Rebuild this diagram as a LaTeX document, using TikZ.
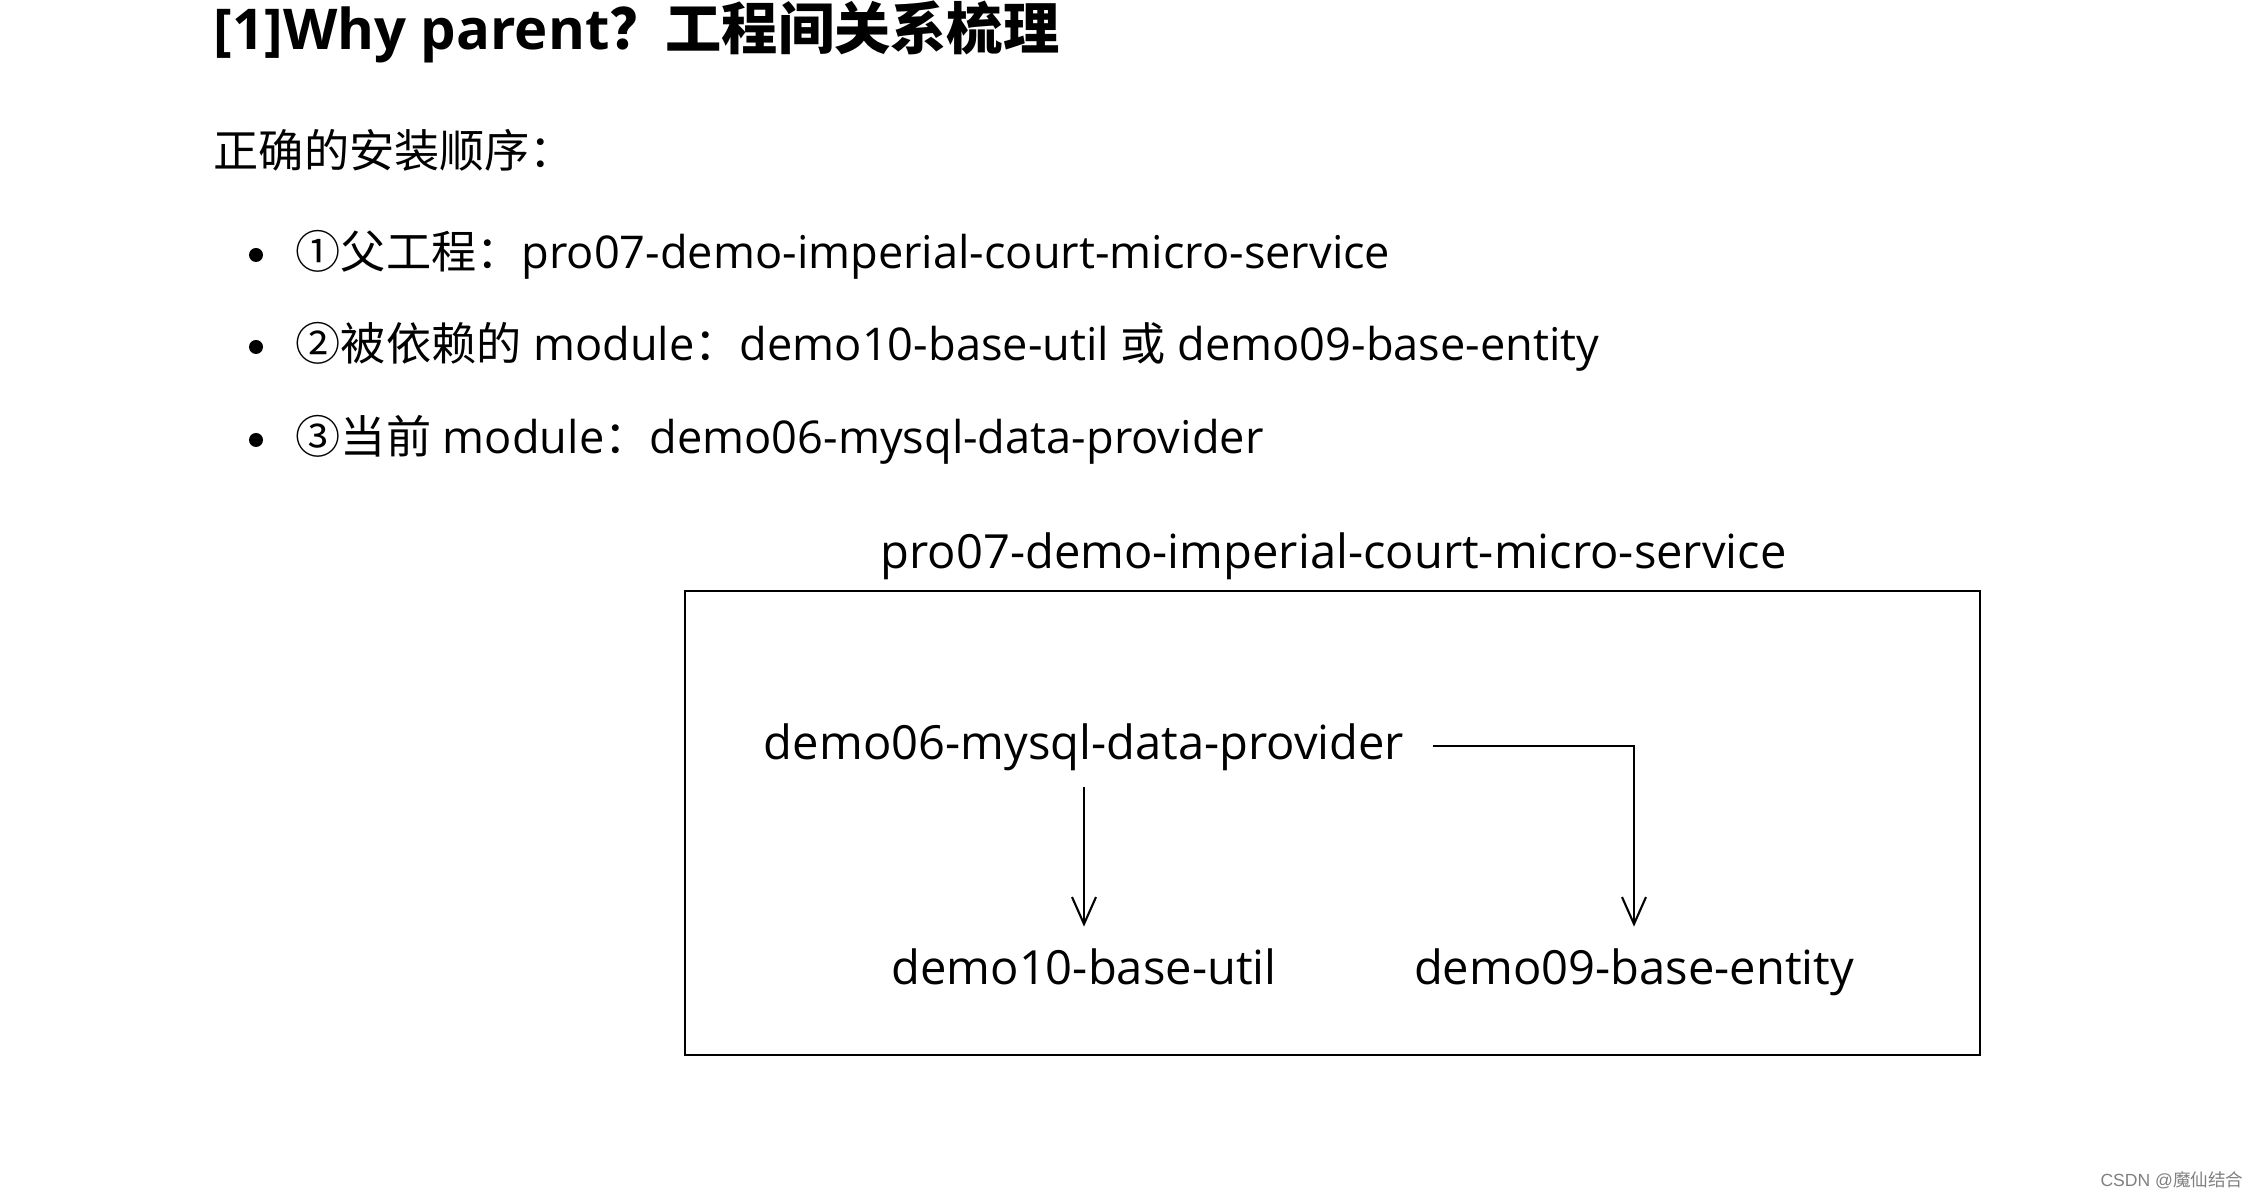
\documentclass[tikz,border=0pt]{standalone}
\usepackage{fontspec}
\setmainfont{Open Sans}
\newfontfamily\cjk{Noto Sans CJK SC}
\newfontfamily\wmfont{Liberation Sans}
\usetikzlibrary{arrows.meta}
\tikzset{
  listitem/.style={anchor=west,inner sep=0pt,font=\fontsize{12.85pt}{15pt}\selectfont},
  module/.style={inner sep=2pt,text height=1.9ex,text depth=0.5ex,font=\fontsize{13.4pt}{16pt}\selectfont},
  dep/.style={line width=0.6pt,-{Straight Barb[length=2.7mm,width=2.4mm]}}
}
\begin{document}
\begin{tikzpicture}
  \useasboundingbox [fill=white] (0,0) rectangle (22.6,-11.99);
  \node [anchor=west,inner sep=0pt,font=\fontsize{16pt}{19pt}\selectfont\bfseries] (title) at (2.13,-0.32) {[1]Why parent{\cjk ？工程间关系梳理}};
  \node [listitem] (order) at (2.13,-1.50) {\cjk 正确的安装顺序：};
  \foreach \y in {-2.55,-3.47,-4.40}
    \fill (2.56,\y) circle [radius=0.07];
  \node [listitem] (item1) at (2.95,-2.55) {{\cjk ①父工程：}pro07-demo-imperial-court-micro-service};
  \node [listitem] (item2) at (2.95,-3.47) {{\cjk ②被依赖的} module{\cjk ：}demo10-base-util {\cjk 或} demo09-base-entity};
  \node [listitem] (item3) at (2.95,-4.40) {{\cjk ③当前} module{\cjk ：}demo06-mysql-data-provider};
  \draw [line width=0.8pt] (6.85,-5.91) rectangle (19.80,-10.55);
  \node [module] (parent) at (13.335,-5.55) {pro07-demo-imperial-court-micro-service};
  \node [module] (d06) at (10.84,-7.46) {demo06-mysql-data-provider};
  \node [module] (d10) at (10.84,-9.71) {demo10-base-util};
  \node [module] (d09) at (16.34,-9.71) {demo09-base-entity};
  \draw [dep,shorten <=3pt,shorten >=4pt] (d06.south) -- (d10.north);
  \draw [dep,shorten <=6pt,shorten >=4pt] (d06.east) -| (d09.north);
  \node [anchor=east,inner sep=0pt,text=gray,font=\fontsize{5pt}{6pt}\selectfont] (mark) at (22.44,-11.80) {\wmfont CSDN @{\cjk 魔仙结合}};
\end{tikzpicture}
\end{document}
